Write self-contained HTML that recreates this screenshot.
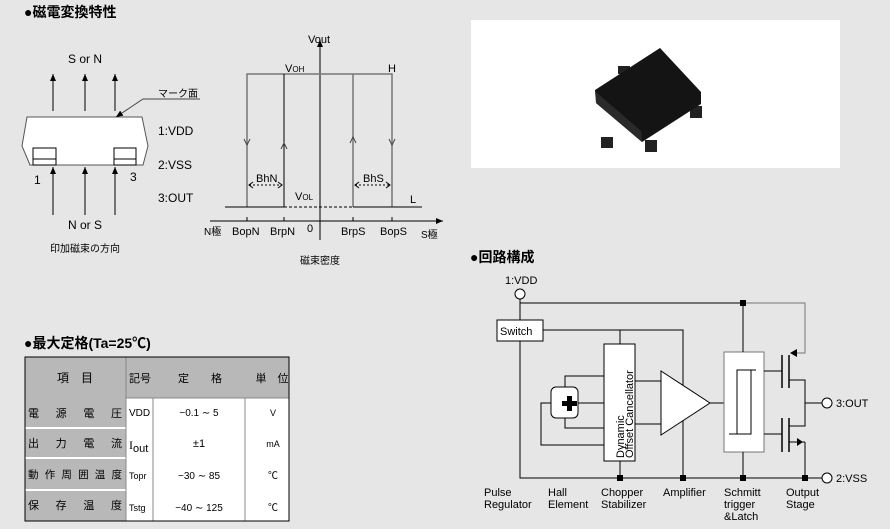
<!DOCTYPE html>
<html><head><meta charset="utf-8"><style>
body{margin:0;background:#e6e6e6;}
svg{display:block;font-family:"Liberation Sans","Noto Sans CJK JP",sans-serif;}
</style></head><body>
<svg width="890" height="529" viewBox="0 0 890 529">
<rect width="890" height="529" fill="#e6e6e6"/>
<defs>
<marker id="a" markerWidth="8" markerHeight="8" refX="7" refY="4" orient="auto" markerUnits="userSpaceOnUse"><path d="M0,1 L7,4 L0,7 Z" fill="#000"/></marker>
</defs>
<g font-weight="bold" font-size="14" fill="#000">
<text x="24" y="17">●磁電変換特性</text>
<text x="470" y="262">●回路構成</text>
<text x="24" y="348">●最大定格(Ta=25℃)</text>
</g>
<!-- package -->
<g stroke="#000" stroke-width="1" fill="none" font-size="12">
<line x1="53" y1="111" x2="53" y2="74" marker-end="url(#a)"/>
<line x1="85" y1="111" x2="85" y2="74" marker-end="url(#a)"/>
<line x1="115" y1="111" x2="115" y2="74" marker-end="url(#a)"/>
<line x1="53" y1="215" x2="53" y2="167" marker-end="url(#a)"/>
<line x1="85" y1="215" x2="85" y2="167" marker-end="url(#a)"/>
<line x1="115" y1="215" x2="115" y2="167" marker-end="url(#a)"/>
<path d="M27,117 L142,117 L148,146 L143,165 L30,165 L22,146 Z" fill="#fff" stroke="#555"/>
<rect x="33" y="148" width="23" height="17"/><line x1="33" y1="159" x2="56" y2="159"/>
<rect x="114" y="148" width="22" height="17"/><line x1="114" y1="159" x2="136" y2="159"/>
<polyline points="200,99 143,99 116,117" stroke="#444" marker-end="url(#a)"/>
</g>
<g font-size="12" fill="#000">
<text x="85" y="63" text-anchor="middle">S or N</text>
<text x="85" y="229" text-anchor="middle">N or S</text>
<text x="34" y="184">1</text><text x="130" y="181">3</text>
<text x="158" y="135">1:VDD</text><text x="158" y="169">2:VSS</text><text x="158" y="202">3:OUT</text>
<text x="158" y="97" font-size="10">マーク面</text>
<text x="85" y="252" text-anchor="middle" font-size="10">印加磁束の方向</text>
</g>
<!-- graph -->
<g fill="none" stroke-width="1">
<line x1="320" y1="240" x2="320" y2="40" stroke="#000" marker-end="url(#a)"/>
<line x1="210" y1="221" x2="443" y2="221" stroke="#000" marker-end="url(#a)"/>
<polyline points="247,207 247,74 392,74 392,207" stroke="#777" stroke-width="1.5"/>
<line x1="284" y1="207" x2="284" y2="74" stroke="#000"/>
<line x1="353" y1="207" x2="353" y2="74" stroke="#777" stroke-width="1.5"/>
<line x1="225" y1="207" x2="284" y2="207" stroke="#000"/>
<line x1="284" y1="207" x2="353" y2="207" stroke="#000" stroke-dasharray="3,2"/>
<line x1="353" y1="207" x2="422" y2="207" stroke="#000"/>
<path d="M244,139 L247,145 L250,139 M281,149 L284,143 L287,149 M350,143 L353,137 L356,143 M389,139 L392,145 L395,139" stroke="#444"/>
<line x1="249" y1="185" x2="282" y2="185" stroke="#000" stroke-dasharray="2,2"/>
<line x1="355" y1="185" x2="390" y2="185" stroke="#000" stroke-dasharray="2,2"/>
<path d="M253,182 L249,185 L253,188 M278,182 L282,185 L278,188 M359,182 L355,185 L359,188 M386,182 L390,185 L386,188" stroke="#000"/>
<path d="M247,217 V221 M284,217 V221 M353,217 V221 M392,217 V221" stroke="#000"/>
</g>
<g font-size="11" fill="#000">
<text x="308" y="43">Vout</text>
<text x="285" y="72">V<tspan font-size="8">OH</tspan></text>
<text x="388" y="72">H</text>
<text x="295" y="200">V<tspan font-size="8">OL</tspan></text>
<text x="410" y="203">L</text>
<text x="256" y="182">BhN</text><text x="363" y="182">BhS</text>
<text x="204" y="235" font-size="10">N極</text>
<text x="232" y="235">BopN</text><text x="270" y="235">BrpN</text>
<text x="307" y="232">0</text>
<text x="341" y="235">BrpS</text><text x="380" y="235">BopS</text>
<text x="421" y="238" font-size="10">S極</text>
<text x="320" y="264" text-anchor="middle" font-size="10">磁束密度</text>
</g>
<!-- photo -->
<rect x="471" y="20" width="369" height="148" fill="#fff"/>
<g fill="#222">
<rect x="618" y="66" width="12" height="8"/>
<rect x="690" y="106" width="12" height="12"/>
<rect x="601" y="137" width="12" height="11"/>
<rect x="645" y="140" width="12" height="12"/>
</g>
<path d="M595,90 L660,48 L701,92 L701,104 L642,142 L596,103 Z" fill="#141414"/>
<path d="M596,92 L641,131 L642,142 L596,103 Z" fill="#2a2a2a"/>
<!-- table -->
<g font-size="11" fill="#000">
<rect x="25" y="357" width="264" height="164" fill="#fff" stroke="#000"/>
<rect x="25" y="357" width="264" height="41" fill="#b8b8b8"/>
<rect x="25" y="398" width="101" height="123" fill="#b8b8b8"/>
<g stroke="#fff" stroke-width="2">
<line x1="25" y1="428" x2="289" y2="428"/><line x1="25" y1="458" x2="289" y2="458"/><line x1="25" y1="490" x2="289" y2="490"/>
</g>
<g stroke="#888"><line x1="126" y1="357" x2="126" y2="521"/><line x1="153" y1="398" x2="153" y2="521"/><line x1="245" y1="398" x2="245" y2="521"/><line x1="126" y1="398" x2="289" y2="398"/></g>
<rect x="25" y="357" width="264" height="164" fill="none" stroke="#000"/>
<text x="75" y="382" text-anchor="middle" font-size="12">項　目</text>
<text x="140" y="382" text-anchor="middle">記号</text>
<text x="200" y="382" text-anchor="middle">定　　格</text>
<text x="272" y="382" text-anchor="middle">単　位</text>
<text x="28" y="417" textLength="94">電　源　電　圧</text>
<text x="28" y="447" textLength="94">出　力　電　流</text>
<text x="28" y="478" textLength="94" font-size="10.5">動作周囲温度</text>
<text x="28" y="509" textLength="94">保　存　温　度</text>
<text x="129" y="416" font-size="10">VDD</text>
<text x="129" y="449" font-size="12" font-family="Liberation Serif">I<tspan font-family="Liberation Sans" font-size="11" dy="3">out</tspan></text>
<text x="129" y="479" font-size="9">Topr</text>
<text x="129" y="511" font-size="9">Tstg</text>
<text x="199" y="416" text-anchor="middle" font-size="10">−0.1 ∼ 5</text>
<text x="199" y="447" text-anchor="middle">±1</text>
<text x="199" y="479" text-anchor="middle" font-size="10">−30 ∼ 85</text>
<text x="199" y="511" text-anchor="middle" font-size="10">−40 ∼ 125</text>
<text x="273" y="416" text-anchor="middle" font-size="9">V</text>
<text x="273" y="447" text-anchor="middle" font-size="9">mA</text>
<text x="273" y="479" text-anchor="middle" font-size="10">℃</text>
<text x="273" y="511" text-anchor="middle" font-size="10">℃</text>
</g>
<!-- circuit -->
<g fill="none" stroke="#000" stroke-width="1">
<circle cx="520" cy="294" r="5" fill="#fff"/>
<polyline points="520,299 520,320"/>
<polyline points="520,303 805,303 805,353 796,353" stroke="#777"/>
<line x1="520" y1="303" x2="743" y2="303"/>
<rect x="497" y="320" width="46" height="21" fill="#fff"/>
<polyline points="543,330 683,330 683,478"/>
<line x1="620" y1="330" x2="620" y2="344"/>
<polyline points="520,341 520,478 822,478"/>
<rect x="604" y="344" width="31" height="117" fill="#fff"/>
<line x1="620" y1="461" x2="620" y2="478"/>
<rect x="551" y="387" width="27" height="31" rx="5" fill="#fff"/>
<polyline points="565,387 565,376 604,376"/>
<line x1="578" y1="403" x2="604" y2="403"/>
<polyline points="565,418 565,428 604,428"/>
<polyline points="551,403 541,403 541,445 604,445"/>
<line x1="635" y1="381" x2="661" y2="381"/><line x1="635" y1="424" x2="661" y2="424"/>
<path d="M661,371 L661,435 L710,403 Z" fill="#fff"/>
<line x1="710" y1="403" x2="724" y2="403"/>
<rect x="724" y="352" width="40" height="100" fill="#fff" stroke="#777"/>
<polyline points="729,434 751,434 751,370 744,370"/>
<polyline points="756,370 737,370 737,434"/>
<line x1="743" y1="303" x2="743" y2="352"/><line x1="743" y1="452" x2="743" y2="478"/>
<line x1="764" y1="371" x2="782" y2="371"/><line x1="764" y1="434" x2="782" y2="434"/>
<line x1="782" y1="355" x2="782" y2="388" stroke-width="1.5"/>
<line x1="789" y1="355" x2="789" y2="388" stroke-width="1.5"/>
<line x1="782" y1="418" x2="782" y2="452" stroke-width="1.5"/>
<line x1="789" y1="418" x2="789" y2="452" stroke-width="1.5"/>
<polyline points="789,380 805,380 805,426 789,426"/>
<line x1="805" y1="403" x2="822" y2="403"/>
<line x1="789" y1="442" x2="805" y2="442"/><line x1="805" y1="442" x2="805" y2="478"/>
<circle cx="827" cy="403" r="5" fill="#fff"/>
<circle cx="827" cy="478" r="5" fill="#fff"/>
</g>
<path d="M567,396 h5 v5 h5 v5 h-5 v5 h-5 v-5 h-5 v-5 h5 Z" fill="#000"/>
<path d="M790,353 L797,349 L797,357 Z M803,442 L797,438 L797,446 Z" fill="#000"/>
<g fill="#000"><rect x="740" y="300" width="6" height="6"/>
<rect x="617" y="475" width="6" height="6"/><rect x="680" y="475" width="6" height="6"/><rect x="740" y="475" width="6" height="6"/><rect x="802" y="475" width="6" height="6"/></g>
<g font-size="11" fill="#000">
<text x="505" y="284">1:VDD</text>
<text x="500" y="335">Switch</text>
<text transform="translate(624,458) rotate(-90)">Dynamic</text>
<text transform="translate(633,458) rotate(-90)">Offset Cancellator</text>
<text x="836" y="407">3:OUT</text>
<text x="836" y="482">2:VSS</text>
<text x="484" y="496">Pulse</text><text x="484" y="508">Regulator</text>
<text x="548" y="496">Hall</text><text x="548" y="508">Element</text>
<text x="601" y="496">Chopper</text><text x="601" y="508">Stabilizer</text>
<text x="663" y="496">Amplifier</text>
<text x="724" y="496">Schmitt</text><text x="724" y="508">trigger</text><text x="724" y="520">&amp;Latch</text>
<text x="786" y="496">Output</text><text x="786" y="508">Stage</text>
</g>
</svg>
</body></html>
